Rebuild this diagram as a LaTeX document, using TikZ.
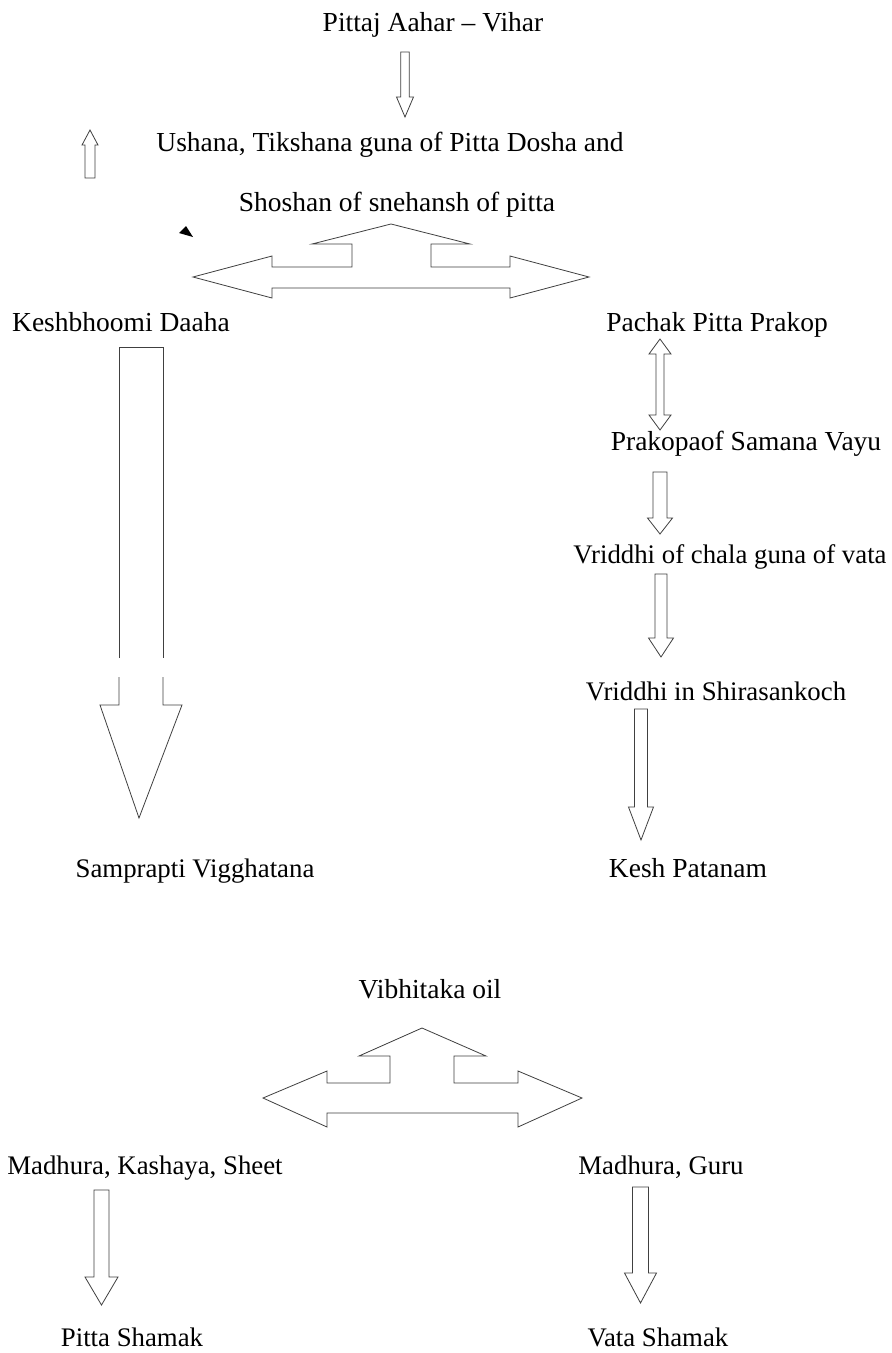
\documentclass[tikz,border=0pt]{standalone}
\usepackage{fontspec}
\setmainfont{Liberation Serif}
\usetikzlibrary{calc}
\tikzset{
  lbl/.style={inner sep=0pt, anchor=base, font=\fontsize{27.5}{32}\selectfont},
  lbls/.style={inner sep=0pt, anchor=base, font=\fontsize{26.8}{32}\selectfont},
  blkarrow/.style={draw=black!75, line width=0.8pt, line join=miter},
}
\newcommand{\blkdown}[5]{%
  \draw[blkarrow] let \p1=(#1), \p2=(#2) in
  (\x1-#3,\y1) -- (\x1+#3,\y1) -- (\x1+#3,\y2+#5) -- (\x1+#4,\y2+#5) -- (\x2,\y2)
  -- (\x1-#4,\y2+#5) -- (\x1-#3,\y2+#5) -- cycle;}
\newcommand{\blkup}[5]{%
  \draw[blkarrow] let \p1=(#1), \p2=(#2) in
  (\x1-#3,\y1) -- (\x1+#3,\y1) -- (\x1+#3,\y2-#5) -- (\x1+#4,\y2-#5) -- (\x2,\y2)
  -- (\x1-#4,\y2-#5) -- (\x1-#3,\y2-#5) -- cycle;}
\newcommand{\blkboth}[5]{%
  \draw[blkarrow] let \p1=(#1), \p2=(#2) in
  (\x1,\y1) -- (\x1+#4,\y1-#5) -- (\x1+#3,\y1-#5) -- (\x1+#3,\y2+#5) -- (\x1+#4,\y2+#5)
  -- (\x2,\y2) -- (\x1-#4,\y2+#5) -- (\x1-#3,\y2+#5) -- (\x1-#3,\y1-#5) -- (\x1-#4,\y1-#5) -- cycle;}
\begin{document}
\begin{tikzpicture}[x=1pt,y=-1pt]
\useasboundingbox[fill=white] (0,0) rectangle (892,1353);

% texts
\node[lbl]  (t1)  at (433,31)   {Pittaj Aahar – Vihar};
\node[lbl]  (t2)  at (390,151)  {Ushana, Tikshana guna of Pitta Dosha and};
\node[lbl]  (t3)  at (397,211)  {Shoshan of snehansh of pitta};
\node[lbl]  (t4)  at (121,331)  {Keshbhoomi Daaha};
\node[lbl]  (t5)  at (717,331)  {Pachak Pitta Prakop};
\node[lbl]  (t6)  at (746,450)  {Prakopaof Samana Vayu};
\node[lbls] (t7)  at (730,563)  {Vriddhi of chala guna of vata};
\node[lbls] (t8)  at (716,700)  {Vriddhi in Shirasankoch};
\node[lbls] (t9)  at (195,877)  {Samprapti Vigghatana};
\node[lbl]  (t10) at (688,877)  {Kesh Patanam};
\node[lbl]  (t11) at (430,998)  {Vibhitaka oil};
\node[lbls] (t12) at (145,1174) {Madhura, Kashaya, Sheet};
\node[lbls] (t13) at (661,1174) {Madhura, Guru};
\node[lbls] (t14) at (132,1346) {Pitta Shamak};
\node[lbls] (t15) at (658,1346) {Vata Shamak};

% arrow end points
\coordinate (a1s) at (405,52);   \coordinate (a1e) at (405,117);
\coordinate (a2s) at (90,178);   \coordinate (a2e) at (90,130);
\coordinate (d1s) at (660,339);  \coordinate (d1e) at (660,430);
\coordinate (d2s) at (660,472);  \coordinate (d2e) at (660,534);
\coordinate (d3s) at (661,574);  \coordinate (d3e) at (661,657);
\coordinate (d4s) at (641,709);  \coordinate (d4e) at (641,840);
\coordinate (l1s) at (101.5,1190); \coordinate (l1e) at (101.5,1305);
\coordinate (r1s) at (640.5,1187); \coordinate (r1e) at (640.5,1303);

\blkdown{a1s}{a1e}{4.3pt}{8.5pt}{20pt}
\blkup{a2s}{a2e}{5pt}{8pt}{15pt}
\blkboth{d1s}{d1e}{4pt}{11pt}{15pt}
\blkdown{d2s}{d2e}{7pt}{12.5pt}{16pt}
\blkdown{d3s}{d3e}{6pt}{12.5pt}{19pt}
\blkdown{d4s}{d4e}{6.5pt}{12.5pt}{33pt}
\blkdown{l1s}{l1e}{7.5pt}{16.5pt}{28pt}
\blkdown{r1s}{r1e}{8pt}{16pt}{30pt}

% big arrow with a break in the shaft
\draw[blkarrow] (119,658) -- (119,347) -- (163,347) -- (163,658);
\draw[blkarrow] (119,677) -- (119,705) -- (100,705) -- (139,818) -- (182,705) -- (163,705) -- (163,677);

% small black arrow head
\fill (179,233) -- (186,226) -- (193,237) -- cycle;

% three-way arrows
\draw[blkarrow] (391,224) -- (470,244) -- (431,244) -- (431,267) -- (510,267) -- (510,256)
  -- (589,277) -- (510,298) -- (510,288) -- (272,288) -- (272,298) -- (193,277)
  -- (272,256) -- (272,267) -- (352,267) -- (352,244) -- (312,244) -- cycle;
\draw[blkarrow] (422,1028) -- (486,1056) -- (454,1056) -- (454,1083) -- (518,1083) -- (518,1071)
  -- (582,1098) -- (518,1127) -- (518,1113) -- (327,1113) -- (327,1127) -- (263,1098)
  -- (327,1071) -- (327,1083) -- (390,1083) -- (390,1056) -- (359,1056) -- cycle;
\end{tikzpicture}
\end{document}
